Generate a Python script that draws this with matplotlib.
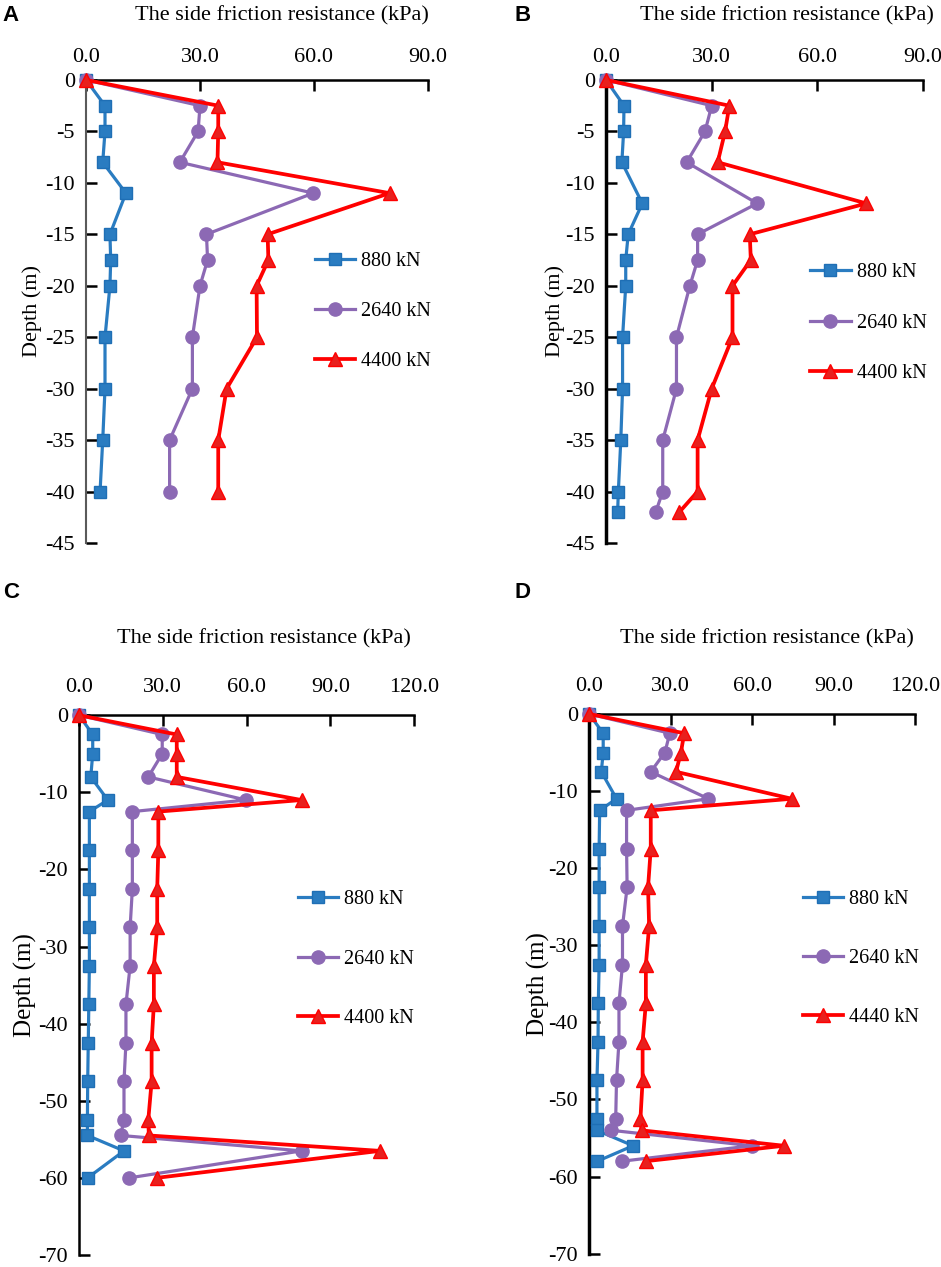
import matplotlib
matplotlib.use("Agg")
import matplotlib.pyplot as plt

plt.rcParams['font.family'] = ['Liberation Serif', 'DejaVu Serif']
plt.rcParams['axes.unicode_minus'] = False

# --- panel A ---
a_depth = [0, -2.5, -5, -8, -11, -15, -17.5, -20, -25, -30, -35, -40]
a_880 = [0, 5.0, 5.0, 4.4, 10.5, 6.3, 6.5, 6.3, 5.0, 5.0, 4.4, 3.7]
a_2640 = [0, 30.0, 29.5, 24.7, 59.8, 31.7, 32.0, 30.0, 28.0, 28.0, 22.0, 22.0]
a_4400 = [0, 34.8, 34.8, 34.6, 79.9, 47.8, 48.0, 44.9, 45.0, 37.0, 34.8, 34.8]

# --- panel B ---
b_depth = [0, -2.5, -5, -8, -12, -15, -17.5, -20, -25, -30, -35, -40, -42]
b_880 = [0, 5.1, 5.0, 4.5, 10.3, 6.3, 5.6, 5.6, 4.7, 4.7, 4.2, 3.5, 3.3]
b_2640 = [0, 30.0, 28.1, 22.9, 42.9, 26.0, 26.0, 23.8, 20.0, 20.0, 16.1, 16.1, 14.1]
b_4400 = [0, 35.0, 33.8, 31.7, 73.9, 40.8, 41.1, 35.9, 35.9, 30.0, 26.0, 26.0, 20.8]

# --- panel C ---
c_depth = [0, -2.5, -5, -8, -11, -12.5, -17.5, -22.5, -27.5, -32.5, -37.5, -42.5,
           -47.5, -52.5, -54.5, -56.5, -60]
c_880 = [0, 4.9, 4.9, 4.2, 10.3, 3.7, 3.7, 3.7, 3.7, 3.7, 3.5, 3.3, 3.1, 3.0, 3.0, 16.1, 3.1]
c_2640 = [0, 29.8, 29.8, 24.8, 59.8, 19.1, 19.1, 19.1, 18.3, 18.3, 16.8, 16.8, 16.1, 16.1,
          14.9, 79.7, 18.0]
c_4400 = [0, 35.0, 35.0, 35.0, 79.7, 28.4, 28.4, 28.0, 28.0, 26.8, 26.8, 26.0, 26.0, 24.8,
          25.0, 107.8, 27.8]

# --- panel D ---
d_depth = [0, -2.5, -5, -7.5, -11, -12.5, -17.5, -22.5, -27.5, -32.5, -37.5, -42.5,
           -47.5, -52.5, -54, -56, -58]
d_880 = [0, 5.2, 5.2, 4.5, 10.1, 3.9, 3.7, 3.7, 3.7, 3.7, 3.4, 3.3, 2.9, 2.9, 2.9, 16.2, 3.1]
d_2640 = [0, 29.7, 27.9, 22.7, 43.9, 13.8, 13.8, 14.0, 12.3, 12.3, 11.0, 11.0, 10.1, 9.8,
          8.2, 59.8, 12.3]
d_4400 = [0, 35.0, 33.8, 32.0, 74.6, 22.7, 22.7, 21.7, 22.1, 20.9, 20.9, 19.7, 19.7, 18.9,
          19.3, 71.7, 20.9]

labels_abc = ['880 kN', '2640 kN', '4400 kN']
labels_d = ['880 kN', '2640 kN', '4440 kN']

BLUE = '#2A7CC1'
PURPLE = '#8C69B4'
RED = '#FF0000'

fig = plt.figure(figsize=(9.41, 12.67), dpi=100)

# axes rectangles, limits and label spots for each panel
panels = [
    dict(rect=[0.0914, 0.5714, 0.3634, 0.3655], depth=a_depth, s=(a_880, a_2640, a_4400),
         lab=labels_abc, xmax=90, ymin=-45, ystep=5, tpos=(0.573, 1.138), lpos=(0.67, 0.50),
         lsp=1.55, ylx=-0.13, yls=16, lcol='#5a5a5a', lw=1.5, xpad=9),
    dict(rect=[0.644, 0.5714, 0.337, 0.3655], depth=b_depth, s=(b_880, b_2640, b_4400),
         lab=labels_abc, xmax=90, ymin=-45, ystep=5, tpos=(0.571, 1.138), lpos=(0.644, 0.475),
         lsp=1.55, ylx=-0.13, yls=16, lcol='black', lw=2.5, xpad=9),
    dict(rect=[0.084, 0.0095, 0.356, 0.426], depth=c_depth, s=(c_880, c_2640, c_4400),
         lab=labels_abc, xmax=120, ymin=-70, ystep=10, tpos=(0.552, 1.141), lpos=(0.654, 0.548),
         lsp=2.0, ylx=-0.125, yls=18, lcol='black', lw=1.8, xpad=13),
    dict(rect=[0.626, 0.0105, 0.3466, 0.426], depth=d_depth, s=(d_880, d_2640, d_4400),
         lab=labels_d, xmax=120, ymin=-70, ystep=10, tpos=(0.546, 1.139), lpos=(0.656, 0.547),
         lsp=2.0, ylx=-0.12, yls=18, lcol='black', lw=2.5, xpad=13),
]

for p in panels:
    ax = fig.add_axes(p['rect'])
    s880, s2640, s4400 = p['s']
    ax.plot(s880, p['depth'], color=BLUE, lw=2.3, marker='s', ms=9,
            mfc=BLUE, mec='#1f6fb5', label=p['lab'][0], clip_on=False, zorder=3)
    ax.plot(s2640, p['depth'], color=PURPLE, lw=2.3, marker='o', ms=9.5,
            mfc=PURPLE, mec=PURPLE, label=p['lab'][1], clip_on=False, zorder=3)
    ax.plot(s4400, p['depth'], color=RED, lw=2.7, marker='^', ms=10,
            mfc='#E8201E', mec=RED, label=p['lab'][2], clip_on=False, zorder=4)

    ax.set_xlim(0, p['xmax'])
    ax.set_ylim(p['ymin'], 0)
    ax.xaxis.tick_top()
    ax.xaxis.set_label_position('top')
    ax.set_xticks(range(0, p['xmax'] + 1, 30))
    ax.set_xticklabels([f'{v:.1f}' for v in range(0, p['xmax'] + 1, 30)])
    ax.set_yticks(range(p['ymin'], 1, p['ystep']))
    ax.set_yticklabels([str(v) for v in range(p['ymin'], 1, p['ystep'])])

    ax.tick_params(axis='x', direction='in', length=8, width=1.8, labelsize=16, pad=p['xpad'])
    ax.tick_params(axis='y', direction='in', length=8, width=1.8, labelsize=16, pad=8)

    for side in ['right', 'bottom']:
        ax.spines[side].set_visible(False)
    ax.spines['top'].set_linewidth(1.8)
    ax.spines['left'].set_linewidth(p['lw'])
    ax.spines['left'].set_color(p['lcol'])

    ax.set_xlabel('The side friction resistance (kPa)', fontsize=16)
    ax.xaxis.label.set_va('center')
    ax.xaxis.set_label_coords(*p['tpos'])
    ax.set_ylabel('Depth (m)', fontsize=p['yls'])
    ax.yaxis.set_label_coords(p['ylx'], 0.5)

    ax.legend(loc='center left', bbox_to_anchor=p['lpos'], frameon=False, fontsize=14.5,
              handlelength=2.0, handletextpad=0.3, labelspacing=p['lsp'],
              borderpad=0, borderaxespad=0)

fig.text(0.003, 0.996, 'A', fontsize=16, fontweight='bold', family='Liberation Sans', va='top')
fig.text(0.547, 0.996, 'B', fontsize=16, fontweight='bold', family='Liberation Sans', va='top')
fig.text(0.003, 0.541, 'C', fontsize=16, fontweight='bold', family='Liberation Sans', va='top')
fig.text(0.547, 0.541, 'D', fontsize=16, fontweight='bold', family='Liberation Sans', va='top')

fig.savefig('out.png', dpi=100)
